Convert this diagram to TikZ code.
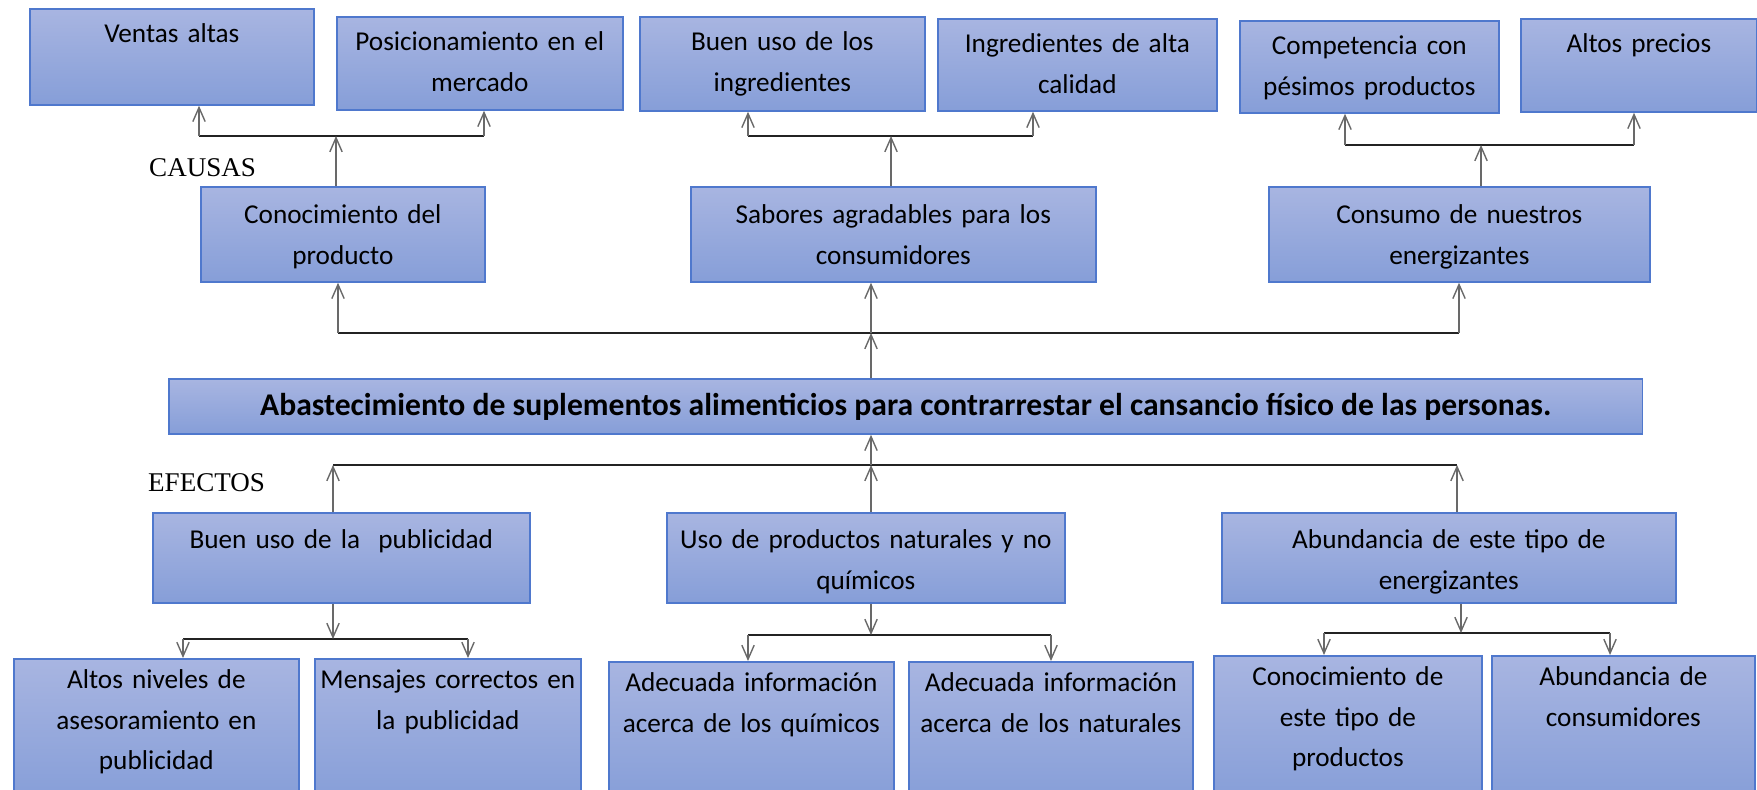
\documentclass[tikz,border=0pt]{standalone}
\usepackage{fontspec}
\setmainfont{Carlito}
\newfontfamily\serifa{Liberation Serif}
\usepackage{tikz}
\usetikzlibrary{arrows.meta}

\definecolor{borde}{RGB}{79,120,205}
\definecolor{cajaarriba}{RGB}{168,181,225}
\definecolor{cajaabajo}{RGB}{134,158,216}
\definecolor{linea}{RGB}{105,105,105}
\definecolor{barracolor}{RGB}{35,35,35}

\begin{document}
\begin{tikzpicture}[x=0.02cm, y=-0.02cm,
    caja/.style={draw=borde, line width=1pt, top color=cajaarriba, bottom color=cajaabajo,
                 anchor=north west, align=center, inner xsep=0.08cm, inner ysep=0pt,
                 font=\fontsize{15.5pt}{23pt}\selectfont},
    flecha/.style={draw=linea, line width=0.8pt, -{Straight Barb[length=8pt,width=7pt]}},
    barra/.style={draw=barracolor, line width=1.3pt},
    titulo/.style={anchor=base west, font=\serifa\fontsize{15.4pt}{18pt}\selectfont}]

        \useasboundingbox (0,0) rectangle (1757,789);
        \clip (0,0) rectangle (1757,789);

        % fila superior
        \node[caja, text width=5.52cm, text height=0.68cm, text depth=1.24cm] (ventas)  at (29,8)    {Ventas altas};
        \node[caja, text width=5.56cm, text height=0.68cm, text depth=1.18cm] (posic)   at (336,16)  {Posicionamiento en el\\mercado};
        \node[caja, text width=5.54cm, text height=0.68cm, text depth=1.20cm] (usoing)  at (639,16)  {Buen uso de los\\ingredientes};
        \node[caja, text width=5.42cm, text height=0.68cm, text depth=1.16cm] (ingred)  at (937,18)  {Ingredientes de alta\\calidad};
        \node[caja, text width=5.02cm, text height=0.68cm, text depth=1.16cm] (compet)  at (1239,20) {Competencia con\\pésimos productos};
        \node[caja, text width=4.56cm, text height=0.68cm, text depth=1.18cm] (precios) at (1520,18) {Altos precios};

        \node[titulo] (causas) at (143,176) {CAUSAS};

        % causas
        \node[caja, text width=5.52cm, text height=0.74cm, text depth=1.16cm] (conoc)   at (200,186)  {Conocimiento del\\producto};
        \node[caja, text width=7.94cm, text height=0.74cm, text depth=1.16cm] (sabores) at (690,186)  {Sabores agradables para los\\consumidores};
        \node[caja, text width=7.46cm, text height=0.74cm, text depth=1.16cm] (consumo) at (1268,186) {Consumo de nuestros\\energizantes};

        % problema central
        \node[caja, minimum width=29.48cm, minimum height=1.1cm, inner xsep=0pt,
              font=\bfseries\fontsize{18pt}{21pt}\selectfont] (central) at (168,378)
              {Abastecimiento de suplementos alimenticios para contrarrestar el cansancio físico de las personas.};

        \node[titulo] (efectos) at (142,491) {EFECTOS};

        % efectos
        \node[caja, text width=7.38cm, text height=0.72cm, text depth=1.08cm] (public)  at (152,512)  {Buen uso de la\ \ publicidad};
        \node[caja, text width=7.80cm, text height=0.72cm, text depth=1.08cm] (natur)   at (666,512)  {Uso de productos naturales y no\\químicos};
        \node[caja, text width=8.92cm, text height=0.72cm, text depth=1.08cm] (abund)   at (1221,512) {Abundancia de este tipo de\\energizantes};

        % fila inferior
        \node[caja, text width=5.54cm, text height=0.60cm, text depth=2.24cm] (aseso)   at (13,658)   {Altos niveles de\\asesoramiento en\\publicidad};
        \node[caja, text width=5.16cm, text height=0.60cm, text depth=2.24cm] (mensaj)  at (314,658)  {Mensajes correctos en\\la publicidad};
        \node[caja, text width=5.54cm, text height=0.60cm, text depth=2.18cm] (infoqui) at (608,661)  {Adecuada información\\acerca de los químicos};
        \node[caja, text width=5.52cm, text height=0.60cm, text depth=2.18cm] (infonat) at (908,661)  {Adecuada información\\acerca de los naturales};
        \node[caja, text width=5.20cm, text height=0.60cm, text depth=2.30cm] (tipo)    at (1213,655) {Conocimiento de\\este tipo de\\productos};
        \node[caja, text width=5.10cm, text height=0.60cm, text depth=2.30cm] (consum)  at (1491,655) {Abundancia de\\consumidores};

        % uniones de arriba
        \coordinate (a0) at (336,136);  \coordinate (a1) at (199,136);  \coordinate (a2) at (484,136);
        \coordinate (b0) at (891,136);  \coordinate (b1) at (748,136);  \coordinate (b2) at (1033,136);
        \coordinate (c0) at (1481,145); \coordinate (c1) at (1345,145); \coordinate (c2) at (1634,145);
        \draw[barra] (a1) -- (a2);
        \draw[barra] (b1) -- (b2);
        \draw[barra] (c1) -- (c2);
        \draw[flecha] (a1) -- (a1 |- ventas.south);
        \draw[flecha] (a2) -- (a2 |- posic.south);
        \draw[flecha] (b1) -- (b1 |- usoing.south);
        \draw[flecha] (b2) -- (b2 |- ingred.south);
        \draw[flecha] (c1) -- (c1 |- compet.south);
        \draw[flecha] (c2) -- (c2 |- precios.south);
        \draw[flecha] (a0 |- conoc.north)   -- (a0);
        \draw[flecha] (b0 |- sabores.north) -- (b0);
        \draw[flecha] (c0 |- consumo.north) -- (c0);

        % causas hacia el centro
        \coordinate (d0) at (871,333); \coordinate (d1) at (338,333); \coordinate (d2) at (1459,333);
        \draw[barra] (d1) -- (d2);
        \draw[flecha] (d0 |- central.north) -- (d0);
        \draw[flecha] (d1) -- (d1 |- conoc.south);
        \draw[flecha] (d0) -- (d0 |- sabores.south);
        \draw[flecha] (d2) -- (d2 |- consumo.south);

        % efectos hacia el centro
        \coordinate (e0) at (871,465); \coordinate (e1) at (333,465); \coordinate (e2) at (1457,465);
        \draw[barra] (e1) -- (e2);
        \draw[flecha] (e0) -- (e0 |- central.south);
        \draw[flecha] (e1 |- public.north) -- (e1);
        \draw[flecha] (e0 |- natur.north)  -- (e0);
        \draw[flecha] (e2 |- abund.north)  -- (e2);

        % uniones de abajo
        \coordinate (f0) at (333,639);  \coordinate (f1) at (183,639);  \coordinate (f2) at (468,639);
        \coordinate (g0) at (871,635);  \coordinate (g1) at (748,635);  \coordinate (g2) at (1051,635);
        \coordinate (h0) at (1461,633); \coordinate (h1) at (1324,633); \coordinate (h2) at (1610,633);
        \draw[barra] (f1) -- (f2);
        \draw[barra] (g1) -- (g2);
        \draw[barra] (h1) -- (h2);
        \draw[flecha] (f0 |- public.south) -- (f0);
        \draw[flecha] (g0 |- natur.south)  -- (g0);
        \draw[flecha] (h0 |- abund.south)  -- (h0);
        \draw[flecha] (f1) -- (f1 |- aseso.north);
        \draw[flecha] (f2) -- (f2 |- mensaj.north);
        \draw[flecha] (g1) -- (g1 |- infoqui.north);
        \draw[flecha] (g2) -- (g2 |- infonat.north);
        \draw[flecha] (h1) -- (h1 |- tipo.north);
        \draw[flecha] (h2) -- (h2 |- consum.north);
      \end{tikzpicture}
\end{document}
